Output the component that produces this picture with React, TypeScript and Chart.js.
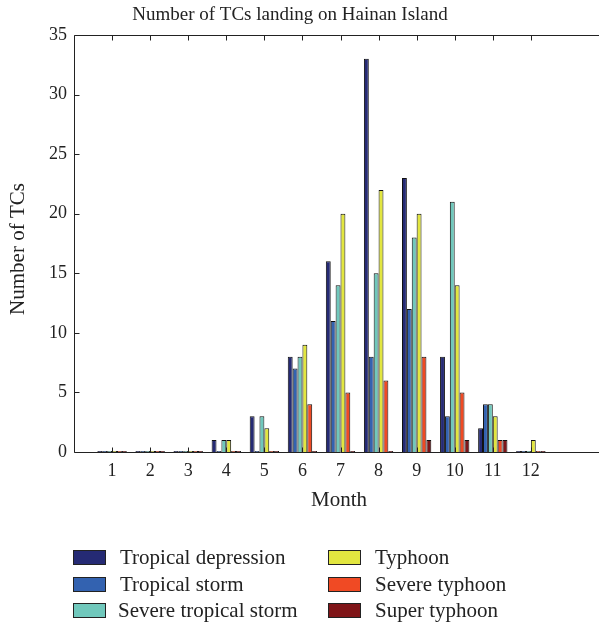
import React, { useEffect, useRef } from "react";
import { Chart, registerables } from "chart.js";

Chart.register(...registerables);

const months = [1, 2, 3, 4, 5, 6, 7, 8, 9, 10, 11, 12];
const seriesNames = [
  "Tropical depression",
  "Tropical storm",
  "Severe tropical storm",
  "Typhoon",
  "Severe typhoon",
  "Super typhoon",
];
const tropicalDepression = [0, 0, 0, 1, 3, 8, 16, 33, 23, 8, 2, 0];
const tropicalStorm = [0, 0, 0, 0, 0, 7, 11, 8, 12, 3, 4, 0];
const severeTropicalStorm = [0, 0, 0, 1, 3, 8, 14, 15, 18, 21, 4, 0];
const typhoon = [0, 0, 0, 1, 2, 9, 20, 22, 20, 14, 3, 1];
const severeTyphoon = [0, 0, 0, 0, 0, 4, 5, 6, 8, 5, 1, 0];
const superTyphoon = [0, 0, 0, 0, 0, 0, 0, 0, 1, 1, 1, 0];
const seriesColors = ["#252a74", "#3362b0", "#70c8bc", "#e2e640", "#f04a24", "#7f1518"];
const yTicks = [0, 5, 10, 15, 20, 25, 30, 35];

const titleText = "Number of TCs landing on Hainan Island";
const xTitle = "Month";
const yTitle = "Number of TCs";

const FONT = "'Liberation Serif', 'Times New Roman', serif";
const CW = 640;
const CH = 626;

export default function App() {
  const ref = useRef<HTMLCanvasElement | null>(null);
  useEffect(() => {
    if (!ref.current) return;
    const allSeries = [
      tropicalDepression,
      tropicalStorm,
      severeTropicalStorm,
      typhoon,
      severeTyphoon,
      superTyphoon,
    ];
    const datasets = allSeries.map((vals, i) => ({
      label: seriesNames[i],
      data: months.map((m, j) => ({ x: m, y: vals[j] })),
      backgroundColor: seriesColors[i],
      borderColor: "#111",
      borderWidth: 1,
      minBarLength: 1,
      categoryPercentage: 0.77,
      barPercentage: 1,
    }));

    const decor = {
      id: "decor",
      afterDraw(chart: any) {
        const ctx = chart.ctx;
        const a = chart.chartArea;
        const xs = chart.scales.x;
        const ys = chart.scales.y;
        ctx.save();
        ctx.strokeStyle = "#222";
        ctx.lineWidth = 1;
        const L = Math.round(a.left) + 0.5;
        const T = Math.round(a.top) + 0.5;
        const B = Math.round(a.bottom) + 0.5;
        const R = a.right;
        ctx.beginPath();
        ctx.moveTo(R, T);
        ctx.lineTo(L, T);
        ctx.lineTo(L, B);
        ctx.lineTo(R, B);
        months.forEach((m) => {
          const px = Math.round(xs.getPixelForValue(m)) + 0.5;
          ctx.moveTo(px, B);
          ctx.lineTo(px, B - 5);
          ctx.moveTo(px, T);
          ctx.lineTo(px, T + 5);
        });
        yTicks.forEach((v) => {
          const py = Math.round(ys.getPixelForValue(v)) + 0.5;
          ctx.moveTo(L, py);
          ctx.lineTo(L + 5, py);
        });
        ctx.stroke();

        ctx.fillStyle = "#222";
        ctx.font = `19px ${FONT}`;
        ctx.textAlign = "center";
        ctx.textBaseline = "middle";
        ctx.fillText(titleText, 290, 15);
        ctx.font = `21px ${FONT}`;
        ctx.fillText(xTitle, 339, 500);
        ctx.save();
        ctx.translate(18, 249);
        ctx.rotate(-Math.PI / 2);
        ctx.fillText(yTitle, 0, 0);
        ctx.restore();

        const colX = [73, 328];
        const textX = [120, 375];
        const rowY = [550, 577, 603];
        ctx.font = `21px ${FONT}`;
        ctx.textAlign = "left";
        seriesNames.forEach((name, i) => {
          const c = Math.floor(i / 3);
          const r = i % 3;
          ctx.fillStyle = seriesColors[i];
          ctx.fillRect(colX[c], rowY[r], 33, 15);
          ctx.strokeStyle = "#222";
          ctx.strokeRect(colX[c] + 0.5, rowY[r] + 0.5, 32, 14);
          ctx.fillStyle = "#222";
          ctx.fillText(name, textX[c] - (r === 2 && c === 0 ? 2 : 0), rowY[r] + 8);
        });
        ctx.restore();
      },
    };

    const chart = new Chart(ref.current, {
      type: "bar",
      data: { datasets: datasets as any },
      options: {
        animation: false,
        responsive: false,
        maintainAspectRatio: false,
        layout: { padding: { left: 0, top: 35, right: CW - 607, bottom: 0 } },
        plugins: {
          legend: { display: false },
          title: { display: false },
          tooltip: { enabled: false },
        },
        scales: {
          x: {
            type: "linear",
            min: 0,
            max: 14,
            offset: false,
            grid: { display: false, drawTicks: false },
            border: { display: false },
            ticks: {
              stepSize: 1,
              autoSkip: false,
              maxRotation: 0,
              padding: 8,
              color: "#222",
              font: { family: FONT, size: 18 },
              callback: (v: any) => (v >= 1 && v <= 12 ? String(v) : ""),
            },
            afterFit: (s: any) => {
              s.height = CH - 452;
            },
          },
          y: {
            min: 0,
            max: 35,
            grid: { display: false, drawTicks: false },
            border: { display: false },
            ticks: {
              stepSize: 5,
              padding: 7,
              color: "#222",
              font: { family: FONT, size: 18 },
            },
            afterFit: (s: any) => {
              s.width = 74;
            },
          },
        },
      },
      plugins: [decor],
    });
    return () => chart.destroy();
  }, []);

  return (
    <div
      style={{
        position: "fixed",
        left: 0,
        top: 0,
        width: 599,
        height: 626,
        overflow: "hidden",
        background: "#fff",
      }}
    >
      <canvas ref={ref} width={CW} height={CH} style={{ width: CW, height: CH, display: "block" }} />
    </div>
  );
}
